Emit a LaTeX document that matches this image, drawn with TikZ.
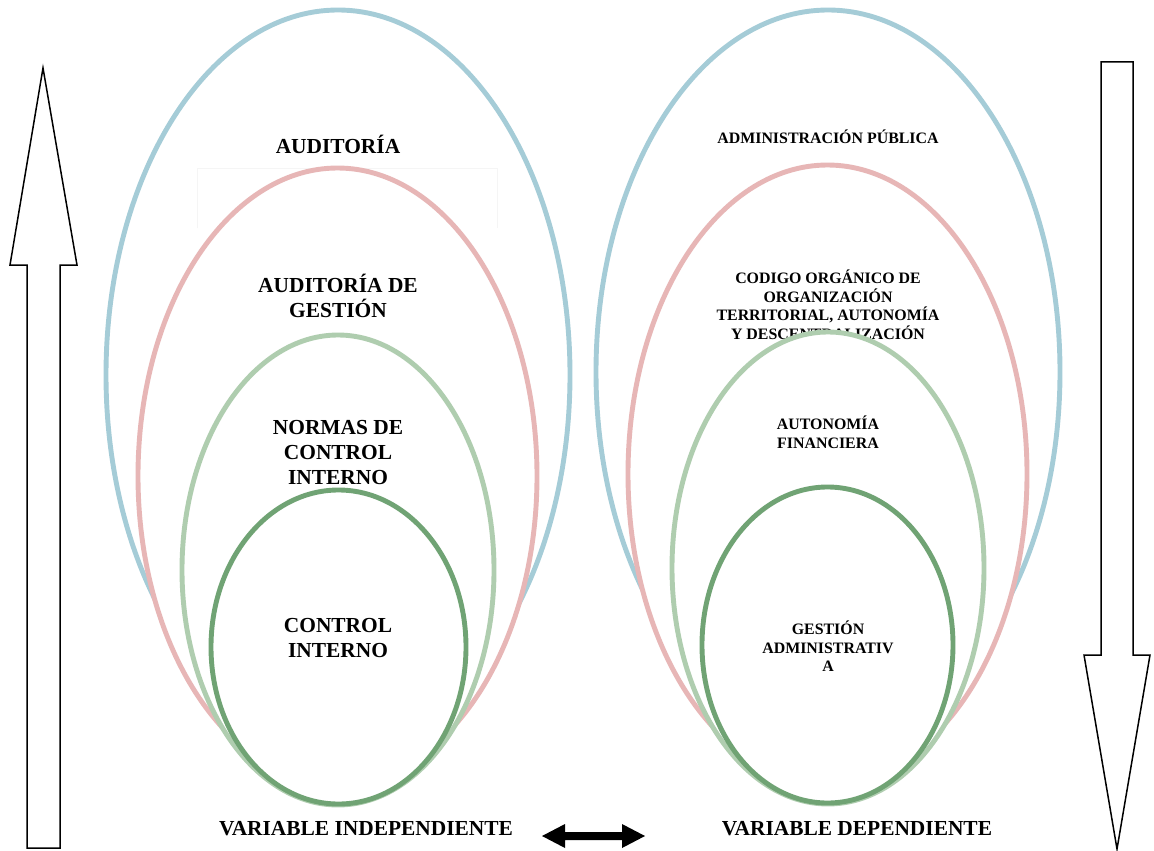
\documentclass[tikz,border=0pt]{standalone}
\usepackage{fontspec}
\setmainfont{Liberation Serif}
\begin{document}
\begin{tikzpicture}[x=1pt,y=-1pt,
  ring/.style={line width=4.9pt, fill=white},
  blue ring/.style={ring, draw=ringblue},
  pink ring/.style={ring, draw=ringpink},
  light ring/.style={ring, draw=ringlight},
  dark ring/.style={ring, draw=ringdark},
  biglabel/.style={inner sep=0pt, align=center, font=\fontsize{21.4}{25}\selectfont\bfseries},
  smalllabel/.style={inner sep=0pt, align=center, font=\fontsize{15.9}{18.5}\selectfont\bfseries},
  hollow arrow/.style={draw=black, line width=1.5pt, fill=white, line join=miter}
]
\definecolor{ringblue}{RGB}{165,204,215}
\definecolor{ringpink}{RGB}{231,182,182}
\definecolor{ringlight}{RGB}{175,205,175}
\definecolor{ringdark}{RGB}{112,163,116}

\useasboundingbox (0,0) rectangle (1154,851);

% ---------- independent variable: nested ellipses ----------
\draw[blue ring] (338,375) ellipse [x radius=232, y radius=365];
\node[biglabel] (aud) at (338,144) {AUDITORÍA};
\draw[black!4, line width=0.8pt] (197,228) -- (197,168) -- (497,168) -- (497,228);
\draw[pink ring] (337.5,476) ellipse [x radius=199.5, y radius=308];
\node[biglabel] (audg) at (338,295.5) {AUDITORÍA DE\\GESTIÓN};
\draw[light ring] (338,570) ellipse [x radius=156, y radius=235];
\node[biglabel] (nci) at (338,453) {NORMAS DE\\CONTROL\\INTERNO};
\draw[dark ring] (338.5,647) ellipse [x radius=127.5, y radius=157];
\node[biglabel] (ci) at (338,638) {CONTROL\\INTERNO};

% ---------- dependent variable: nested ellipses ----------
\draw[blue ring] (828,372) ellipse [x radius=232, y radius=362];
\node[smalllabel] (adm) at (828,137) {ADMINISTRACIÓN PÚBLICA};
\draw[pink ring] (827.5,474) ellipse [x radius=199.5, y radius=309];
\node[smalllabel] (cootad) at (828,305) {CODIGO ORGÁNICO DE\\ORGANIZACIÓN\\TERRITORIAL, AUTONOMÍA\\Y DESCENTRALIZACIÓN};
\draw[light ring] (828,568) ellipse [x radius=156, y radius=236];
\node[smalllabel] (autf) at (828,432.5) {AUTONOMÍA\\FINANCIERA};
\draw[dark ring] (827.5,645) ellipse [x radius=125.5, y radius=158];
\node[smalllabel] (gadm) at (828,646.5) {GESTIÓN\\ADMINISTRATIV\\A};

% ---------- variable captions and the link between them ----------
\node[biglabel] (vi) at (366,828.5) {VARIABLE INDEPENDIENTE};
\node[biglabel] (vd) at (857,828.5) {VARIABLE DEPENDIENTE};
\coordinate (linkL) at (542,836);
\coordinate (linkR) at (645,836);
\fill[black] (linkL) -- ++(23,-12) -- ++(0,8) -- (622,832) -- (622,824)
  -- (linkR) -- (622,848) -- (622,840) -- (565,840) -- (565,848) -- cycle;

% ---------- side arrows ----------
\draw[hollow arrow] (27,848) -- (27,265) -- (10,265) -- (43,68) -- (77,265)
  -- (60,265) -- (60,848) -- cycle;
\draw[hollow arrow] (1101,62) -- (1133,62) -- (1133,655) -- (1150,655)
  -- (1117,849) -- (1084,655) -- (1101,655) -- cycle;
\end{tikzpicture}
\end{document}
